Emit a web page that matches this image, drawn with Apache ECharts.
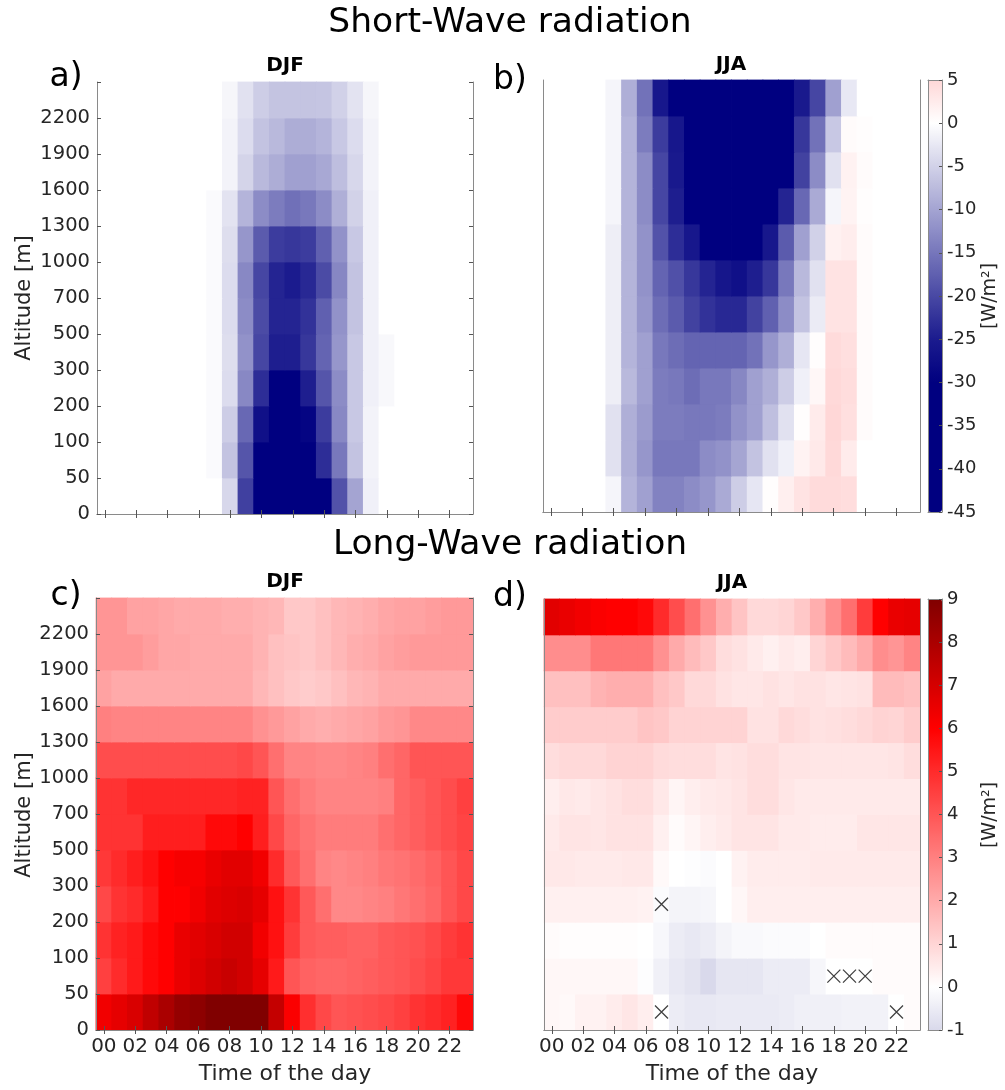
<!DOCTYPE html>
<html><head><meta charset="utf-8">
<script src="https://cdn.jsdelivr.net/npm/echarts@6/dist/echarts.min.js"></script>
<style>html,body{margin:0;padding:0;background:#fff}#c{width:1005px;height:1090px}</style>
</head><body><div id="c"></div>
<script>
// ---------------- DATA ----------------
const hours = ['00','01','02','03','04','05','06','07','08','09','10','11','12','13','14','15','16','17','18','19','20','21','22','23'];
// row boundaries (bottom edge of each altitude band)
const altitudeLabels = ['0','50','100','200','300','500','700','1000','1300','1600','1900','2200'];

// Short-wave, DJF  (rows: bottom band 0-50 m first, top band last; columns: hours 00..23)
const swDJF = [
 [0,0,0,0,0,0,0, 0,-4.4,-21,-40,-42,-42,-40,-35,-19,-10,-1.6, 0, 0,0,0,0,0],
 [0,0,0,0,0,0,0, -0.5,-6.6,-18.7,-35,-38,-38,-33,-23,-14.8,-6.6,-1.3, 0, 0,0,0,0,0],
 [0,0,0,0,0,0,0, -0.5,-5.5,-16.5,-27,-32,-32,-29,-21.4,-13,-6,-1.3, 0, 0,0,0,0,0],
 [0,0,0,0,0,0,0, -0.5,-3.8,-13,-23,-30,-30,-24.7,-18.7,-12.6,-6,-1.6,-0.8, 0,0,0,0,0],
 [0,0,0,0,0,0,0, -0.5,-3.6,-12,-20.3,-24.7,-24.7,-22,-17,-11.5,-6,-1.6,-0.8, 0,0,0,0,0],
 [0,0,0,0,0,0,0, -0.5,-3.8,-12.6,-19.8,-24,-24,-22.5,-17.5,-12,-6.6,-1.6, 0, 0,0,0,0,0],
 [0,0,0,0,0,0,0, -0.5,-3.8,-13,-20.3,-24,-25,-23.6,-19.8,-13.2,-6.6,-1.6, 0, 0,0,0,0,0],
 [0,0,0,0,0,0,0, -0.5,-3.6,-11.5,-18,-21.4,-22,-21.4,-17.5,-12,-6,-1.6, 0, 0,0,0,0,0],
 [0,0,0,0,0,0,0, -0.5,-3,-8.2,-12.6,-14.3,-15.7,-14.8,-12.6,-8.8,-4.9,-1.6, 0, 0,0,0,0,0],
 [0,0,0,0,0,0,0, 0,-1.3,-4.7,-7.7,-9,-10.4,-10.4,-9.5,-7.1,-4.4,-1.3, 0, 0,0,0,0,0],
 [0,0,0,0,0,0,0, 0,-1.3,-3.8,-6.6,-7.7,-9,-9,-8.2,-6,-3.8,-1.3, 0, 0,0,0,0,0],
 [0,0,0,0,0,0,0, 0,-1,-3.3,-5.5,-6.5,-6.5,-6.5,-6.3,-5,-3,-1, 0, 0,0,0,0,0]
];

// Short-wave, JJA
const swJJA = [
 [0,0,0,0, -1.1,-8.2,-10.4,-13.7,-13.7,-12.6,-11.5,-9.3,-5.5,-2.7,0.3,2,3.5,4.5,4.5,4.2, 0,0,0,0],
 [0,0,0,0, -3.3,-8.8,-11.5,-14.8,-14.8,-14.8,-12.6,-12,-9.9,-6.6,-3.3,-1.6,1.5,2.8,4.8,2.5, 0,0,0,0],
 [0,0,0,0, -3.3,-8.8,-11,-14.3,-14.3,-14.8,-14.8,-14.3,-12,-10.4,-7,-3.3,0.3,2.5,5,4, 0.5,0,0,0],
 [0,0,0,0, -1.9,-7.7,-10.4,-14.3,-14.8,-16,-14.8,-14.8,-13.2,-10.4,-8.8,-5.5,-1.6,1,4.8,4.3, 0.5,0,0,0],
 [0,0,0,0, -1.9,-8.2,-10.4,-14.8,-16,-17,-17,-17,-17,-15.4,-11.5,-8.8,-2.7,0.3,4.5,4, 0.5,0,0,0],
 [0,0,0,0, -1.9,-8.2,-11.5,-16,-18,-20.8,-22.5,-23.6,-23.6,-20.8,-17.5,-12.6,-6.6,-2.2,3.5,3.5, 0.5,0,0,0],
 [0,0,0,0, -1.9,-8.2,-12,-17,-19.2,-22,-24,-26,-27,-24.7,-22,-14.8,-7.7,-3.3,3.5,3.5, 0.5,0,0,0],
 [0,0,0,0, -1.9,-8.2,-12,-19,-23,-25.8,-31,-33,-33,-30,-25.8,-18,-10.4,-5,1.8,2.2, 0.5,0,0,0],
 [0,0,0,0, -1.1,-8.2,-12.6,-20.3,-24.7,-31,-36,-39,-40,-37,-32,-24,-16.5,-9.3,-1.1,1.5, 0.2,0,0,0],
 [0,0,0,0, -1.1,-8.2,-12.6,-20.3,-25.3,-32,-37,-40,-41,-39,-36,-31,-20.8,-12.6,-3.3,1.6, 0.5,0,0,0],
 [0,0,0,0, -1.1,-8.2,-14.3,-21.4,-25.8,-33,-38,-41,-42,-40,-37,-32,-22,-15.4,-6,0.5, 0.3,0,0,0],
 [0,0,0,0, -1.1,-8.8,-15.4,-25.8,-32,-38,-42,-44,-44,-42,-38,-31,-25.3,-20.3,-10.4,-2.5, 0,0,0,0]
];

// Long-wave, DJF
const lwDJF = [
 [6.3,6.6,6.9,7.5,8.0,8.5,8.7,9.0,9.0,9.0,9.0,7.4,6.1,4.9,4.3,4.0,4.1,4.2,4.3,4.5,4.8,5.0,5.2,5.8],
 [4.5,5.0,5.4,5.8,6.0,6.5,6.8,7.1,7.3,7.1,6.6,5.4,4.0,3.7,3.6,3.6,3.7,3.8,3.9,4.0,4.2,4.4,4.7,4.7],
 [4.8,5.2,5.4,5.8,6.0,6.5,6.7,6.9,7.1,7.1,6.3,5.6,4.6,3.9,3.8,3.8,3.7,3.7,3.9,4.0,4.1,4.3,4.6,4.8],
 [4.3,4.8,5.0,5.4,6.0,6.0,6.3,6.7,6.8,6.9,6.6,5.6,4.8,3.9,3.4,2.8,2.8,2.9,3.0,3.2,3.4,3.6,4.0,4.3],
 [4.7,5.0,5.3,5.6,6.0,6.2,6.2,6.5,6.7,6.7,6.3,5.0,3.9,3.4,2.9,2.8,2.9,3.0,3.2,3.3,3.5,3.7,4.0,4.3],
 [4.8,4.8,4.8,5.3,5.3,5.3,5.3,5.8,5.8,6.0,5.3,4.3,3.6,3.3,3.1,3.1,3.1,3.1,3.4,3.6,3.8,4.0,4.2,4.4],
 [4.8,4.8,5.1,5.1,5.1,5.1,5.1,5.1,5.1,5.2,5.2,4.0,3.4,3.1,2.9,2.9,2.9,2.9,3.0,3.6,3.8,4.0,4.2,4.5],
 [4.2,4.2,4.2,4.2,4.2,4.2,4.2,4.2,4.2,4.3,4.0,3.4,2.9,2.9,2.8,2.8,2.9,3.0,3.4,3.6,4.0,4.0,4.0,4.0],
 [3.0,2.9,2.9,2.9,2.9,2.9,2.9,2.9,2.9,2.9,2.6,2.4,2.2,2.0,1.9,2.0,2.1,2.2,2.4,2.5,2.8,2.8,2.8,2.8],
 [2.2,2.0,2.0,2.0,2.0,2.0,2.0,2.0,2.0,2.0,1.7,1.5,1.3,1.2,1.3,1.5,1.7,1.8,2.0,2.0,2.0,2.0,2.0,2.0],
 [2.5,2.5,2.5,2.3,2.1,2.1,2.0,2.0,2.0,2.0,1.8,1.5,1.4,1.3,1.5,1.7,1.9,2.0,2.2,2.3,2.4,2.4,2.4,2.4],
 [2.5,2.5,2.2,2.2,2.1,2.0,2.0,2.0,1.9,1.9,1.8,1.7,1.3,1.3,1.5,1.7,1.8,1.9,2.1,2.2,2.2,2.3,2.4,2.4]
];

// Long-wave, JJA
const lwJJA = [
 [0.2,0.15,0.3,0.3,0.45,0.6,0.4,0,-0.5,-0.6,-0.6,-0.55,-0.55,-0.55,-0.55,-0.5,-0.4,-0.4,-0.4,-0.35,-0.35,-0.35,0,0.1],
 [0.2,0.2,0.2,0.2,0.2,0.2,-0.05,-0.4,-0.6,-0.75,-1.0,-0.65,-0.65,-0.65,-0.5,-0.5,-0.5,-0.25,0,0,0,0.1,0.1,0.1],
 [0.1,0.05,0.05,0.05,0.05,0.05,0,-0.2,-0.5,-0.6,-0.5,-0.3,-0.15,-0.15,-0.1,-0.1,-0.1,0,0.1,0.1,0.1,0.1,0.1,0.1],
 [0.35,0.35,0.35,0.35,0.35,0.35,0.3,-0.1,-0.3,-0.3,-0.25,0,0.2,0.4,0.4,0.4,0.4,0.4,0.4,0.4,0.4,0.4,0.4,0.4],
 [0.55,0.55,0.5,0.5,0.5,0.55,0.55,0.15,0,-0.05,-0.1,0,0.3,0.45,0.45,0.45,0.45,0.5,0.5,0.5,0.5,0.5,0.5,0.5],
 [0.5,0.65,0.65,0.6,0.7,0.7,0.7,0.35,0.1,0.25,0.4,0.5,0.65,0.65,0.65,0.5,0.5,0.45,0.45,0.45,0.6,0.6,0.6,0.6],
 [0.4,0.55,0.5,0.6,0.7,0.8,0.8,0.55,0.25,0.4,0.5,0.55,0.65,0.8,0.8,0.6,0.5,0.5,0.5,0.5,0.5,0.5,0.5,0.5],
 [0.8,0.9,0.9,0.9,1.05,1.05,1.05,0.85,0.8,0.8,0.8,0.65,0.7,0.8,0.8,0.65,0.65,0.6,0.6,0.6,0.6,0.6,0.65,0.8],
 [1.2,1.2,1.2,1.2,1.2,1.2,1.4,1.3,1.05,1.05,1.05,1.05,1.05,0.7,0.7,0.9,0.8,0.7,0.75,0.8,0.9,1.05,1.0,1.2],
 [1.5,1.5,1.5,1.8,1.9,1.9,1.9,1.5,1.3,0.9,0.9,0.7,0.6,0.6,0.7,0.6,0.7,0.7,0.6,0.65,0.7,1.6,1.6,1.5],
 [2.7,2.7,2.7,3.2,3.2,3.2,3.2,2.6,2.0,1.6,1.3,0.8,0.7,0.5,0.35,0.5,0.4,1.0,1.3,1.6,2.0,2.7,2.5,2.9],
 [6.7,6.5,6.3,6.1,6.0,6.0,5.8,5.0,4.2,3.4,2.6,1.9,1.4,0.9,0.9,1.0,1.3,1.9,2.7,3.4,4.6,6.0,6.5,6.6]
];

// cross markers in the JJA long-wave panel (hour index, altitude-band index)
const markHours = [7, 7, 18, 19, 20, 22];
const markBands = [3, 0, 1, 1, 1, 0];

// colour scales
const swRange = [-45, 5];
const swColors = ['#000080','#000080','#000080','#000080','#1b1b8e','#4949a4','#7676bb','#a4a4d2','#d1d1e8','#ffffff','#ffd7d7'];
const lwRange = [-1, 9];
const lwColors = ['#d9d9eb','#ffffff','#ffd5d5','#ffaaaa','#ff8080','#ff5555','#ff2b2b','#ff0000','#d50000','#aa0000','#800000'];

// ---------------- CHART ----------------
const FONT = 'DejaVu Sans';
const TXT = '#262626';
const AX = '#8a8a8a';

function cells(m) { const out = []; m.forEach((row, r) => row.forEach((v, c) => out.push([c, r, v]))); return out; }

function renderCell(params, api) {
  const c = api.value(0), r = api.value(1);
  const p0 = api.coord([c, r]);
  const p1 = api.coord([c, r + 1]);
  const w = api.size([1, 0])[0];
  const col = api.visual('color');
  // slight overlap avoids hairline seams between neighbouring cells
  return { type: 'rect', shape: { x: p0[0] - w / 2 - 0.4, y: p1[1] - 0.4, width: w + 0.8, height: p0[1] - p1[1] + 0.8 },
           style: { fill: col } };
}

const panels = [
  { left: 97,  top: 82,  width: 376, height: 432, xLab: false, yLab: true,  yTicks: true },
  { left: 543, top: 80,  width: 377, height: 432, xLab: false, yLab: false, yTicks: false },
  { left: 96,  top: 598, width: 377, height: 432, xLab: true,  yLab: true,  yTicks: true },
  { left: 544, top: 599, width: 376, height: 431, xLab: true,  yLab: false, yTicks: false }
];
const bars = [
  { left: 928, top: 80,  width: 14, height: 432, range: swRange, step: 5 },
  { left: 928, top: 599, width: 14, height: 431, range: lwRange, step: 1 }
];

const grid = [], xAxis = [], yAxis = [];
panels.forEach((p, i) => {
  grid.push({ left: p.left, top: p.top, width: p.width, height: p.height });
  ['bottom', 'top'].forEach(pos => xAxis.push({
    type: 'category', gridIndex: i, data: hours, position: pos, z: 10,
    axisLine: { show: true, lineStyle: { color: AX, width: 1 } },
    axisTick: { show: true, inside: true, length: 4, alignWithLabel: true, interval: 1, lineStyle: { color: '#555' } },
    axisLabel: { show: pos === 'bottom' && p.xLab, interval: 1, fontFamily: FONT, fontSize: 20, color: TXT, margin: 7 },
    splitLine: { show: false }
  }));
  ['left', 'right'].forEach(pos => yAxis.push({
    type: 'value', gridIndex: i, min: 0, max: 12, interval: 1, position: pos, z: 10,
    axisLine: { show: true, lineStyle: { color: AX, width: 1 } },
    axisTick: { show: p.yTicks, inside: true, length: 4, lineStyle: { color: '#555' } },
    axisLabel: { show: pos === 'left' && p.yLab, formatter: v => (v < altitudeLabels.length ? altitudeLabels[v] : ''),
                 fontFamily: FONT, fontSize: 19.5, color: TXT, margin: 7 },
    splitLine: { show: false }
  }));
});
bars.forEach((b, k) => {
  const gi = panels.length + k;
  grid.push({ left: b.left, top: b.top, width: b.width, height: b.height });
  ['bottom', 'top'].forEach(pos => xAxis.push({
    type: 'value', gridIndex: gi, min: 0, max: 1, position: pos, z: 10,
    axisLine: { show: true, onZero: false, lineStyle: { color: AX } }, axisTick: { show: false }, axisLabel: { show: false }, splitLine: { show: false }
  }));
  ['left', 'right'].forEach(pos => yAxis.push({
    type: 'value', gridIndex: gi, min: b.range[0], max: b.range[1], interval: b.step, position: pos, z: 10,
    axisLine: { show: true, onZero: false, lineStyle: { color: AX } },
    axisTick: { show: pos === 'right', inside: true, length: 3, lineStyle: { color: '#555' } },
    axisLabel: { show: pos === 'right', fontFamily: FONT, fontSize: 18, color: TXT, margin: 5 },
    splitLine: { show: false }
  }));
});

const series = [swDJF, swJJA, lwDJF, lwJJA].map((m, i) => ({
  type: 'custom', xAxisIndex: 2 * i, yAxisIndex: 2 * i, data: cells(m),
  encode: { x: 0, y: 1 }, renderItem: renderCell, silent: true
}));
series.push({
  type: 'scatter', xAxisIndex: 6, yAxisIndex: 6, silent: true,
  data: markHours.map((h, i) => [h, markBands[i] + 0.5]),
  symbol: 'path://M0 0L10 10M10 0L0 10', symbolSize: 13,
  itemStyle: { color: 'rgba(0,0,0,0)', borderColor: '#111', borderWidth: 1.3 }, z: 5
});

const visualMap = [
  { type: 'continuous', seriesIndex: [0, 1], dimension: 2, min: swRange[0], max: swRange[1],
    inRange: { color: swColors }, calculable: false, hoverLink: false, orient: 'vertical',
    left: bars[0].left, top: bars[0].top, itemWidth: bars[0].width, itemHeight: bars[0].height, padding: 0, text: null, z: 4 },
  { type: 'continuous', seriesIndex: [2, 3], dimension: 2, min: lwRange[0], max: lwRange[1],
    inRange: { color: lwColors }, calculable: false, hoverLink: false, orient: 'vertical',
    left: bars[1].left, top: bars[1].top, itemWidth: bars[1].width, itemHeight: bars[1].height, padding: 0, text: null, z: 4 }
];

function txt(text, x, y, size, opts) {
  opts = opts || {};
  return { type: 'text', x: x, y: y, rotation: opts.rot || 0, z: 20,
    style: { text: text, fontFamily: FONT, fontSize: size, fontWeight: opts.bold ? 'bold' : 'normal',
             fill: opts.color || TXT, textAlign: 'center', textVerticalAlign: 'middle' } };
}
const R90 = Math.PI / 2;
const graphic = [
  txt('Short-Wave radiation', 510, 23, 34.5, { color: '#000' }),
  txt('Long-Wave radiation', 510, 545, 34.5, { color: '#000' }),
  txt('a)', 66, 77, 33, { color: '#000' }),
  txt('b)', 510, 80, 33, { color: '#000' }),
  txt('c)', 66, 596, 33, { color: '#000' }),
  txt('d)', 510, 597, 33, { color: '#000' }),
  txt('DJF', 285, 66, 20, { bold: true, color: '#000' }),
  txt('JJA', 731, 65, 20, { bold: true, color: '#000' }),
  txt('DJF', 285, 582, 20, { bold: true, color: '#000' }),
  txt('JJA', 732, 583, 20, { bold: true, color: '#000' }),
  txt('Altitude [m]', 25, 298, 21, { rot: R90 }),
  txt('Altitude [m]', 25, 815, 21, { rot: R90 }),
  txt('Time of the day', 285, 1074, 22),
  txt('Time of the day', 732, 1074, 22),
  txt('[W/m²]', 990, 296, 19, { rot: R90 }),
  txt('[W/m²]', 990, 815, 19, { rot: R90 })
];

const chart = echarts.init(document.getElementById('c'), null, { renderer: 'canvas' });
chart.setOption({ animation: false, backgroundColor: '#fff', grid, xAxis, yAxis, series, visualMap, graphic, tooltip: { show: false } });
</script></body></html>
